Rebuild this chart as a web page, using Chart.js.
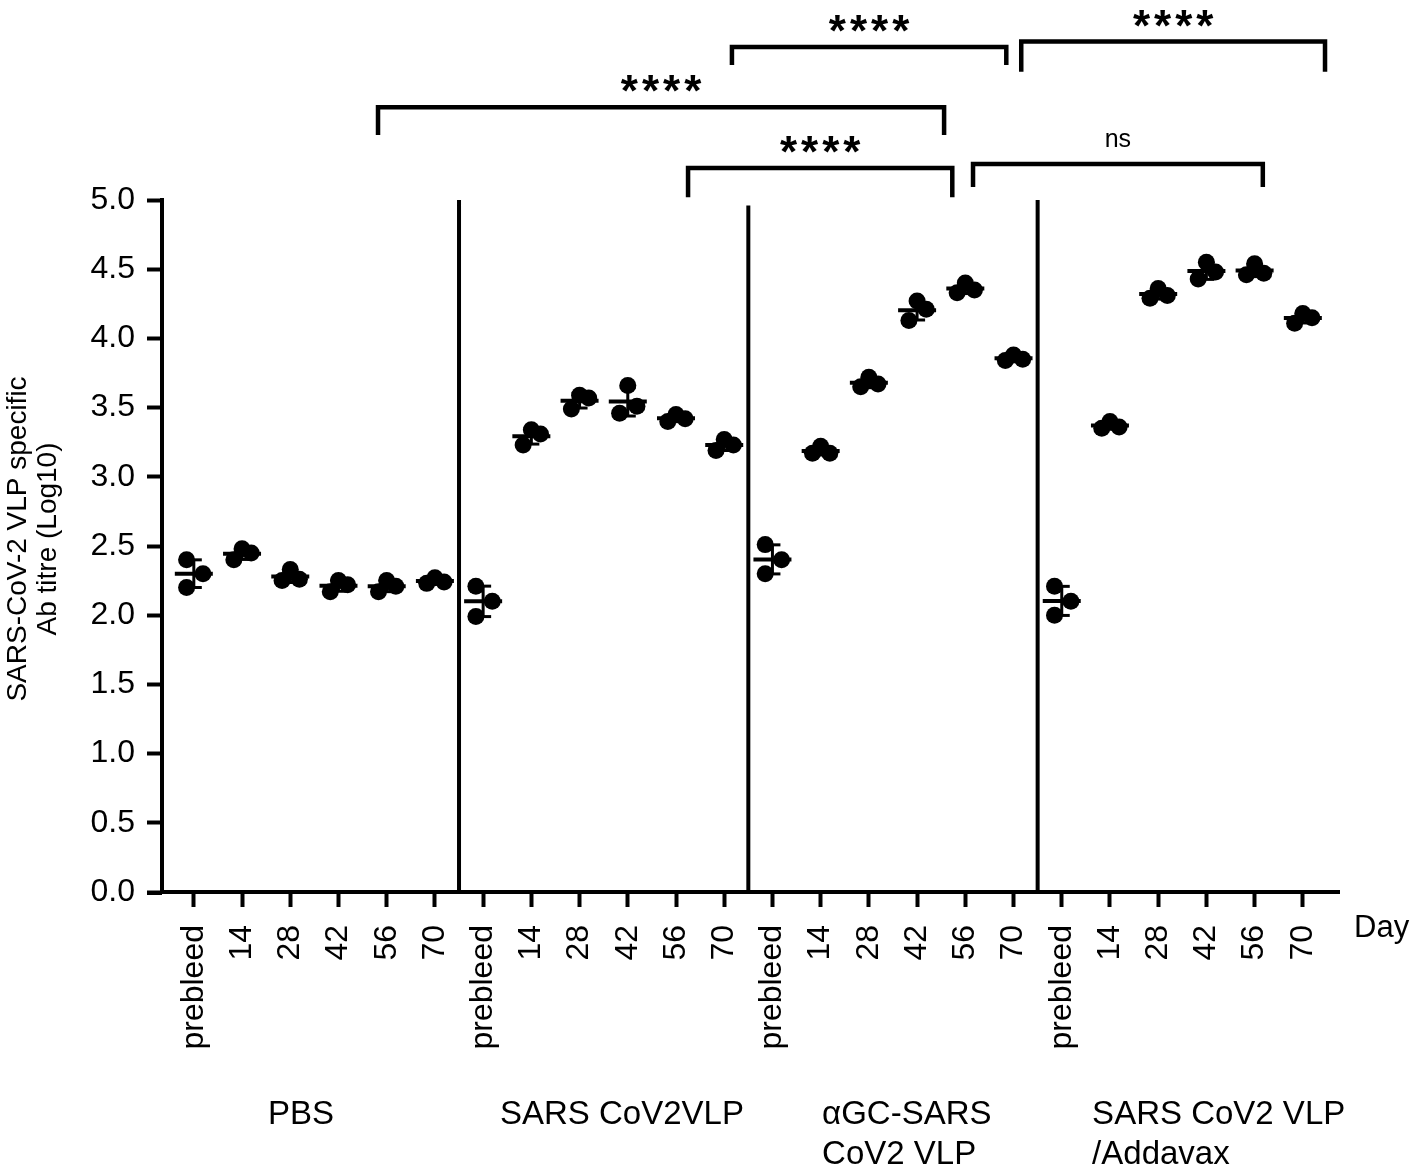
<!DOCTYPE html>
<html>
<head>
<meta charset="utf-8">
<title>SARS-CoV-2 VLP specific Ab titre</title>
<script src="https://cdn.jsdelivr.net/npm/chart.js@4.4.0/dist/chart.umd.min.js"></script>
<style>
  html, body { margin: 0; padding: 0; background: #fff; }
  #wrap { width: 1418px; height: 1174px; position: relative; }
</style>
</head>
<body>
<div id="wrap"><canvas id="titreChart"></canvas></div>
<script>
// days of bleed, repeated for each of the four groups
const DAYS = ["prebleed", "14", "28", "42", "56", "70"];
const GROUP_NAMES = [["PBS"], ["SARS CoV2VLP"], ["\u03b1GC-SARS", "CoV2 VLP"], ["SARS CoV2 VLP", "/Addavax"]];
const Y_TICKS = [0, 0.5, 1, 1.5, 2, 2.5, 3, 3.5, 4, 4.5, 5];

// log10 titres, three mice per day
const PBS = [
    [2.40, 2.30, 2.20],
    [2.40, 2.48, 2.45],
    [2.25, 2.33, 2.26],
    [2.17, 2.25, 2.22],
    [2.17, 2.25, 2.21],
    [2.23, 2.27, 2.24]
];
const VLP = [
    [2.21, 2.10, 1.99],
    [3.23, 3.34, 3.31],
    [3.49, 3.59, 3.57],
    [3.46, 3.66, 3.51],
    [3.40, 3.45, 3.42],
    [3.19, 3.27, 3.23]
];
const AGC_VLP = [
    [2.51, 2.40, 2.30],
    [3.17, 3.22, 3.17],
    [3.65, 3.72, 3.67],
    [4.13, 4.27, 4.21],
    [4.33, 4.40, 4.35],
    [3.84, 3.88, 3.85]
];
const VLP_ADDAVAX = [
    [2.21, 2.10, 2.00],
    [3.35, 3.40, 3.36],
    [4.29, 4.36, 4.31],
    [4.43, 4.55, 4.48],
    [4.46, 4.54, 4.47],
    [4.11, 4.18, 4.15]
];
const GROUPS = [PBS, VLP, AGC_VLP, VLP_ADDAVAX];

// scatter spread of the three points (category units)
const JITTER = [-0.17, 0, 0.19];
const JITTER_PREBLEED = [-0.15, 0.19, -0.15];

// significance brackets: [from, to, bar level, leg end, label]
const COMPARISONS = [
    [11.16, 16.85, 6.105, 5.975, "****"],
    [17.16, 23.46, 6.145, 5.927, "****"],
    [3.82, 15.56, 5.671, 5.469, "****"],
    [10.25, 15.73, 5.231, 5.020, "****"],
    [16.16, 22.17, 5.260, 5.094, "ns"]
];
const DIVIDERS = [5.5, 11.5, 17.5];
const DIVIDER_TOP = [5.0, 4.96, 5.0];

const FONT = "'Liberation Sans', Arial, Helvetica, sans-serif";
Chart.defaults.font.family = FONT;
Chart.defaults.color = "#000";

let dots = [], means = [], caps = [], sdLines = [], dividers = [];
GROUPS.forEach(function (group, g) {
    group.forEach(function (reps, d) {
        let x = g * DAYS.length + d;
        let jit = d === 0 ? JITTER_PREBLEED : JITTER;
        reps.forEach((v, k) => dots.push({ x: x + jit[k], y: v }));
        let mean = reps.reduce((a, b) => a + b, 0) / reps.length;
        let sd = Math.sqrt(reps.reduce((a, b) => a + (b - mean) * (b - mean), 0) / (reps.length - 1));
        means.push({ x: x, y: mean });
        caps.push({ x: x, y: mean - sd }, { x: x, y: mean + sd });
        sdLines.push({ x: x, y: mean - sd }, { x: x, y: mean + sd }, { x: x, y: null });
    });
});
DIVIDERS.forEach(function (d, i) {
    dividers.push({ x: d, y: 0 }, { x: d, y: DIVIDER_TOP[i] }, { x: d, y: null });
});

const categoryTicks = [];
for (let i = 0; i < GROUPS.length * DAYS.length; i++) categoryTicks.push({ value: i });

// where each group caption starts, in category units
const GROUP_LABEL_AT = [1.54, 6.35, 13.03, 18.63];

const annotate = {
    id: "annotate",
    afterDraw(chart) {
        const { ctx, chartArea } = chart;
        const xs = chart.scales.x, ys = chart.scales.y;
        ctx.save();
        ctx.strokeStyle = "#000";
        ctx.fillStyle = "#000";

        // x axis runs a bit past the y axis
        ctx.lineWidth = 4;
        ctx.beginPath();
        ctx.moveTo(chartArea.left - 15, chartArea.bottom + 1);
        ctx.lineTo(chartArea.left, chartArea.bottom + 1);
        ctx.stroke();

        COMPARISONS.forEach(function ([a, b, top, leg, label]) {
            let x1 = xs.getPixelForValue(a), x2 = xs.getPixelForValue(b);
            let yt = ys.getPixelForValue(top), yl = ys.getPixelForValue(leg);
            ctx.lineWidth = 4.5;
            ctx.lineJoin = "miter";
            ctx.beginPath();
            ctx.moveTo(x1, yl);
            ctx.lineTo(x1, yt);
            ctx.lineTo(x2, yt);
            ctx.lineTo(x2, yl);
            ctx.stroke();
            ctx.textAlign = "center";
            ctx.textBaseline = "alphabetic";
            if (label === "ns") {
                ctx.font = "25px " + FONT;
                ctx.letterSpacing = "0px";
                ctx.fillText(label, (x1 + x2) / 2, yt - 17);
            } else {
                ctx.font = "bold 44px " + FONT;
                ctx.letterSpacing = "4px";
                ctx.fillText(label, (x1 + x2) / 2 + 2, yt - 1);
            }
        });
        ctx.letterSpacing = "0px";

        // group captions under the day labels
        ctx.font = "33px " + FONT;
        ctx.textAlign = "left";
        ctx.textBaseline = "alphabetic";
        GROUP_NAMES.forEach(function (lines, g) {
            let gx = xs.getPixelForValue(GROUP_LABEL_AT[g]);
            lines.forEach((line, k) => ctx.fillText(line, gx, 1124 + k * 40));
        });

        ctx.font = "31px " + FONT;
        ctx.fillText("Day", chartArea.right + 15, 937);

        // y axis title, two lines
        ctx.font = "28px " + FONT;
        ctx.textAlign = "center";
        let cy = (chartArea.top + chartArea.bottom) / 2 - 7;
        [["SARS-CoV-2 VLP specific", 26], ["Ab titre (Log10)", 56]].forEach(function ([txt, bx]) {
            ctx.save();
            ctx.translate(bx, cy);
            ctx.rotate(-Math.PI / 2);
            ctx.fillText(txt, 0, 0);
            ctx.restore();
        });
        ctx.restore();
    }
};

new Chart(document.getElementById("titreChart"), {
    type: "scatter",
    data: {
        datasets: [
            { label: "divider", data: dividers, showLine: true, spanGaps: false, borderColor: "#000", borderWidth: 4, pointRadius: 0, clip: false },
            { label: "SD", data: sdLines, showLine: true, spanGaps: false, borderColor: "#000", borderWidth: 3, pointRadius: 0 },
            { label: "SD cap", data: caps, pointStyle: "line", pointRadius: 8, borderColor: "#000", borderWidth: 3 },
            { label: "mouse", data: dots, pointStyle: "circle", pointRadius: 8.5, backgroundColor: "#000", borderColor: "#000", borderWidth: 0 },
            { label: "mean", data: means, pointStyle: "line", pointRadius: 19, borderColor: "#000", borderWidth: 4 }
        ]
    },
    options: {
        responsive: true,
        maintainAspectRatio: false,
        animation: false,
        events: [],
        layout: { padding: { top: 200, right: 79, left: 0, bottom: 0 } },
        plugins: {
            legend: { display: false },
            tooltip: { enabled: false }
        },
        scales: {
            x: {
                type: "linear",
                min: -0.66,
                max: 23.75,
                afterBuildTicks: function (scale) { scale.ticks = categoryTicks.slice(); },
                afterFit: function (scale) { scale.height = 282; },
                ticks: {
                    autoSkip: false,
                    minRotation: 90,
                    maxRotation: 90,
                    padding: 18,
                    color: "#000",
                    font: { size: 32 },
                    callback: v => DAYS[v % DAYS.length]
                },
                grid: { drawOnChartArea: false, tickLength: 15, tickWidth: 4, tickColor: "#000" },
                border: { color: "#000", width: 4 }
            },
            y: {
                min: 0,
                max: 5,
                afterBuildTicks: function (scale) { scale.ticks = Y_TICKS.map(v => ({ value: v })); },
                afterFit: function (scale) { scale.width = 162; },
                ticks: {
                    padding: 12,
                    color: "#000",
                    font: { size: 32 },
                    callback: v => v.toFixed(1)
                },
                grid: { drawOnChartArea: false, tickLength: 15, tickWidth: 4, tickColor: "#000" },
                border: { color: "#000", width: 4 }
            }
        }
    },
    plugins: [annotate]
});
</script>
</body>
</html>
